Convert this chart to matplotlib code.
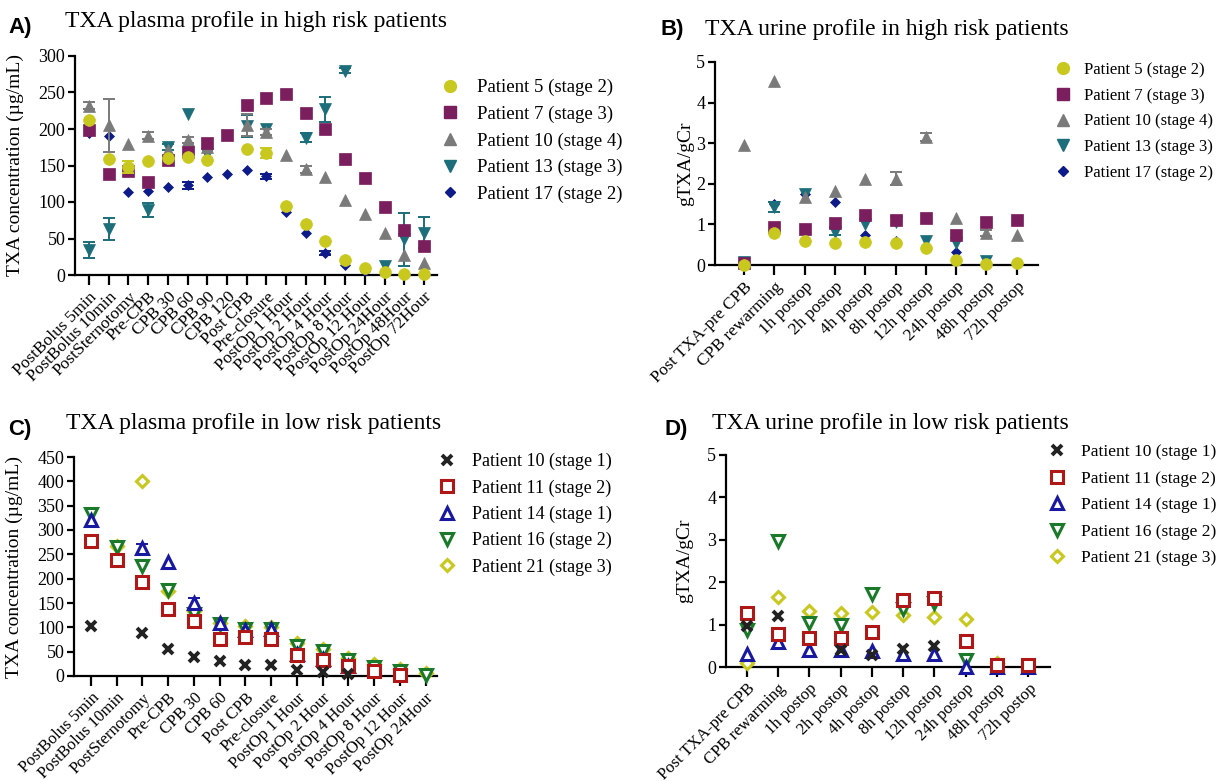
import numpy as np
import matplotlib
matplotlib.use("Agg")
import matplotlib.pyplot as plt

nan = np.nan

# ---------------- Panel A: plasma, high risk ----------------
a_times = ["PostBolus 5min", "PostBolus 10min", "PostSternotomy", "Pre-CPB", "CPB 30",
           "CPB 60", "CPB 90", "CPB 120", "Post CPB", "Pre-closure", "PostOp 1 Hour",
           "PostOp 2 Hour", "PostOp 4 Hour", "PostOp 8 Hour", "PostOp 12 Hour",
           "PostOp 24Hour", "PostOp 48Hour", "PostOp 72Hour"]
a_p5 = [212, 159, 148, 156, 160, 161, 158, nan, 172, 167, 94, 70, 46, 20, 10, 4, 1, 1]
a_p7 = [199, 139, 143, 127, 157, 168, 181, 192, 233, 243, 248, 222, 200, 159, 133, 93, 61, 40]
a_p10 = [232, 205, 179, 191, 171, 185, 176, nan, 206, 196, 165, 145, 134, 103, 84, 58, 27, 16]
a_p13 = [34, 63, nan, 89, 175, 221, 166, nan, 204, 200, nan, 188, 227, 280, nan, 12, 49, 58]
a_p17 = [194, 190, 114, 115, 120, 123, 134, 138, 144, 135, 86, 58, 30, 14, 5, nan, nan, nan]
a_p5_err = [nan, nan, 8, nan, nan, nan, nan, nan, nan, 7, nan, nan, nan, nan, nan, nan, nan, nan]
a_p10_err = [5, 36, nan, 5, nan, 4, nan, nan, 15, 4, nan, 5, nan, nan, nan, nan, nan, nan]
a_p13_err = [11, 15, nan, 9, 4, nan, nan, nan, 15, nan, nan, 6, 17, 3, nan, nan, 36, 21]
a_p17_err = [nan, nan, nan, nan, nan, 5, nan, nan, nan, 4, nan, nan, 3, nan, nan, nan, nan, nan]

# ---------------- Panel B: urine, high risk ----------------
b_times = ["Post TXA-pre CPB", "CPB rewarming", "1h postop", "2h postop", "4h postop",
           "8h postop", "12h postop", "24h postop", "48h postop", "72h postop"]
b_p5 = [0.0, 0.79, 0.59, 0.53, 0.57, 0.53, 0.43, 0.12, 0.03, 0.04]
b_p7 = [0.04, 0.93, 0.89, 1.04, 1.23, 1.12, 1.16, 0.73, 1.07, 1.11]
b_p10 = [2.95, 4.52, 1.68, 1.83, 2.11, 2.13, 3.16, 1.16, 0.79, 0.74]
b_p13 = [0.08, 1.43, 1.75, 0.82, 1.00, 1.07, 0.60, 0.55, 0.10, nan]
b_p17 = [0.04, 1.50, 1.75, 1.54, 0.75, 0.60, nan, 0.33, nan, nan]
b_p10_err = [nan, nan, nan, nan, nan, 0.15, 0.10, nan, 0.08, nan]
b_p13_err = [nan, 0.12, nan, 0.08, nan, nan, nan, nan, nan, nan]

# ---------------- Panel C: plasma, low risk ----------------
c_times = ["PostBolus 5min", "PostBolus 10min", "PostSternotomy", "Pre-CPB", "CPB 30",
           "CPB 60", "Post CPB", "Pre-closure", "PostOp 1 Hour", "PostOp 2 Hour",
           "PostOp 4 Hour", "PostOp 8 Hour", "PostOp 12 Hour", "PostOp 24Hour"]
c_p10 = [103, nan, 89, 55, 39, 31, 23, 23, 12, 9, 5, nan, nan, nan]
c_p11 = [277, 238, 194, 138, 113, 76, 80, 77, 43, 33, 21, 10, 3, nan]
c_p14 = [320, nan, 262, 234, 149, 108, 94, 96, 45, 35, 20, nan, nan, nan]
c_p16 = [332, 266, 227, 176, 128, 106, 97, 97, 61, 52, 33, 19, 10, 3]
c_p21 = [nan, 268, 401, 175, 134, 108, 102, 100, 67, 55, 37, 25, 14, 7]
c_p14_err = [nan, nan, 10, nan, 12, nan, nan, nan, nan, nan, nan, nan, nan, nan]

# ---------------- Panel D: urine, low risk ----------------
d_times = b_times
d_p10 = [0.97, 1.21, nan, 0.40, 0.29, 0.42, 0.49, nan, nan, nan]
d_p11 = [1.27, 0.78, 0.69, 0.68, 0.82, 1.59, 1.62, 0.61, 0.04, 0.04]
d_p14 = [0.31, 0.60, 0.41, 0.41, 0.38, 0.30, 0.30, 0.00, 0.00, 0.00]
d_p16 = [0.87, 2.96, 1.04, 0.99, 1.73, 1.37, 1.51, 0.17, nan, nan]
d_p21 = [0.09, 1.65, 1.31, 1.27, 1.30, 1.23, 1.19, 1.13, 0.09, nan]

high_labels = ["Patient 5 (stage 2)", "Patient 7 (stage 3)", "Patient 10 (stage 4)",
               "Patient 13 (stage 3)", "Patient 17 (stage 2)"]
low_labels = ["Patient 10 (stage 1)", "Patient 11 (stage 2)", "Patient 14 (stage 1)",
              "Patient 16 (stage 2)", "Patient 21 (stage 3)"]

SERIF = ["Liberation Serif", "DejaVu Serif"]
plt.rcParams["font.family"] = SERIF

W, H = 1218, 781
fig = plt.figure(figsize=(W / 100, H / 100), dpi=100)


def add_ax(left, top, right, bottom):
    return fig.add_axes([left / W, 1 - bottom / H, (right - left) / W, (bottom - top) / H])


def style_ax(ax, labels, ylim, yticks, xlim, ylabel, ylab_x, xfs, ylfs):
    for s in ["top", "right"]:
        ax.spines[s].set_visible(False)
    for s in ["left", "bottom"]:
        ax.spines[s].set_linewidth(1.6)
    ax.set_xlim(*xlim)
    ax.set_ylim(*ylim)
    ax.set_yticks(yticks)
    ax.set_xticks(range(len(labels)))
    ax.set_xticklabels(labels, rotation=45, ha="right", rotation_mode="anchor",
                       fontsize=xfs)
    ax.tick_params(axis="x", length=7, width=1.6, pad=3)
    ax.tick_params(axis="y", length=5, width=1.6, labelsize=13, pad=2)
    ax.set_ylabel(ylabel, fontsize=ylfs)
    ax.yaxis.set_label_coords(ylab_x, 0.5)


def pts(ax, y, err, marker, color, ms, hollow=False, mew=2.2, z=3):
    x = np.arange(len(y))
    y = np.asarray(y, float)
    if err is not None:
        e = np.asarray(err, float)
        m = ~np.isnan(e) & ~np.isnan(y)
        ax.errorbar(x[m], y[m], yerr=e[m], fmt="none", ecolor=color, elinewidth=1.4,
                    capsize=4, capthick=1.4, zorder=z, clip_on=False)
    if hollow:
        ax.plot(x, y, ls="none", marker=marker, ms=ms, mfc="white", mec=color, mew=mew,
                zorder=z + 0.5, clip_on=False)
    else:
        ax.plot(x, y, ls="none", marker=marker, ms=ms, color=color, mec=color, mew=0.5,
                zorder=z + 0.5, clip_on=False)


def legend(ax, handles, labels, x0, y0, fs, spacing, tpad=0.9):
    ax.legend(handles, labels, loc="upper left", bbox_to_anchor=(x0 / W, 1 - y0 / H),
              bbox_transform=fig.transFigure, frameon=False, fontsize=fs,
              handlelength=1.0, handletextpad=tpad, labelspacing=spacing,
              borderpad=0, borderaxespad=0)


C_YEL = "#c8c81e"
C_PUR = "#7a1e5e"
C_GRY = "#7a7a7a"
C_TEA = "#1b6e7a"
C_NAV = "#0c1a8a"
C_BLK = "#222222"
C_RED = "#b01818"
C_BLU = "#1818a0"
C_GRN = "#1a7a2a"

# ---------- A ----------
axA = add_ax(75, 56, 437, 275)
style_ax(axA, a_times, (0, 300), range(0, 301, 50), (-0.71, 17.66),
         "TXA concentration (µg/mL)", -0.14, 12.5, 14)
pts(axA, a_p17, a_p17_err, "D", C_NAV, 5.5, z=3)
pts(axA, a_p13, a_p13_err, "v", C_TEA, 8, z=4)
pts(axA, a_p10, a_p10_err, "^", C_GRY, 8, z=5)
pts(axA, a_p7, None, "s", C_PUR, 8, z=6)
pts(axA, a_p5, a_p5_err, "o", C_YEL, 8.5, z=7)
hA = [plt.Line2D([], [], ls="none", marker=m, color=c, ms=s) for m, c, s in
      [("o", C_YEL, 8.5), ("s", C_PUR, 8), ("^", C_GRY, 8), ("v", C_TEA, 8), ("D", C_NAV, 5.5)]]
legend(axA, hA, high_labels, 441, 79, 13.5, 0.5)

# ---------- B ----------
axB = add_ax(715, 62, 1038, 265)
style_ax(axB, b_times, (0, 5), range(0, 6), (-0.96, 9.7), "gTXA/gCr", -0.065, 12.5, 14)
pts(axB, b_p17, None, "D", C_NAV, 5.5, z=3)
pts(axB, b_p13, b_p13_err, "v", C_TEA, 8, z=4)
pts(axB, b_p10, b_p10_err, "^", C_GRY, 8, z=5)
pts(axB, b_p7, None, "s", C_PUR, 8, z=6)
pts(axB, b_p5, None, "o", C_YEL, 8.5, z=7)
legend(axB, hA, high_labels, 1055, 62, 12, 0.58, tpad=0.75)

# ---------- C ----------
axC = add_ax(74, 457, 437, 676)
style_ax(axC, c_times, (0, 450), range(0, 451, 50), (-0.66, 13.44),
         "TXA concentration (µg/mL)", -0.14, 12, 14)
pts(axC, c_p21, None, "D", C_YEL, 6.5, hollow=True, z=3)
pts(axC, c_p16, None, "v", C_GRN, 8.5, hollow=True, z=4)
pts(axC, c_p14, c_p14_err, "^", C_BLU, 8.5, hollow=True, z=5)
pts(axC, c_p11, None, "s", C_RED, 8, hollow=True, z=6)
pts(axC, c_p10, None, "x", C_BLK, 7, hollow=False, z=7)
axC.lines[-1].set_markeredgewidth(2.8)
hC = [plt.Line2D([], [], ls="none", marker="x", color=C_BLK, ms=7, mew=2.8)]
hC += [plt.Line2D([], [], ls="none", marker=m, mfc="white", mec=c, ms=s, mew=2.2) for m, c, s in
       [("s", C_RED, 8), ("^", C_BLU, 8.5), ("v", C_GRN, 8.5), ("D", C_YEL, 6.5)]]
legend(axC, hC, low_labels, 438, 453, 13, 0.5)

# ---------- D ----------
axD = add_ax(726, 455, 1050, 667)
style_ax(axD, d_times, (0, 5), range(0, 6), (-0.66, 9.69), "gTXA/gCr", -0.1, 12, 14)
pts(axD, d_p21, None, "D", C_YEL, 6.5, hollow=True, z=3)
pts(axD, d_p16, None, "v", C_GRN, 8.5, hollow=True, z=4)
pts(axD, d_p14, None, "^", C_BLU, 8.5, hollow=True, z=5)
pts(axD, d_p11, None, "s", C_RED, 8, hollow=True, z=6)
pts(axD, d_p10, None, "x", C_BLK, 7, z=7)
axD.lines[-1].set_markeredgewidth(2.8)
legend(axD, hC, low_labels, 1048, 444, 12.5, 0.6)

# ---------- titles ----------
LBL = ["Liberation Sans", "DejaVu Sans"]
for lx, ly, lab, tx, ty, title in [
        (8, 27, "A)", 65, 21, "TXA plasma profile in high risk patients"),
        (660, 30, "B)", 705, 29, "TXA urine profile in high risk patients"),
        (8, 430, "C)", 66, 424, "TXA plasma profile in low risk patients"),
        (664, 429, "D)", 712, 424, "TXA urine profile in low risk patients")]:
    fig.text(lx / W, 1 - ly / H, lab, fontsize=16, fontweight="bold", family=LBL,
             va="center", ha="left")
    fig.text(tx / W, 1 - ty / H, title, fontsize=17, va="center", ha="left")

fig.savefig("out.png", dpi=100)
